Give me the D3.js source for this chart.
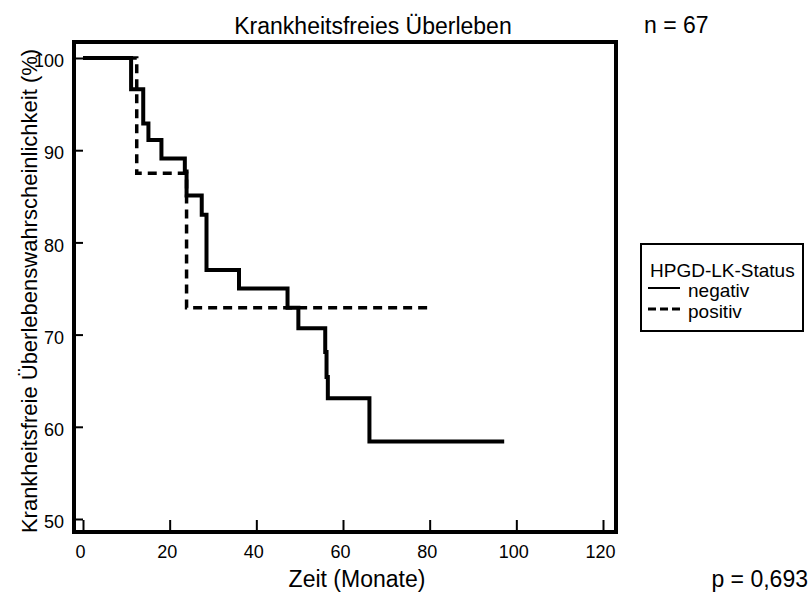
<!DOCTYPE html>
<html>
<head>
<meta charset="utf-8">
<script src="https://cdn.jsdelivr.net/npm/d3@7"></script>
<style>
  body { margin: 0; background: #fff; }
  svg { font-family: "Liberation Sans", Arial, sans-serif; }
</style>
</head>
<body>
<div id="chart"></div>
<script>
// Kaplan-Meier step curves
const negTimes = [0, 11.1, 13.9, 15.1, 18.1, 23.5, 23.9, 27.4, 28.5, 36.0, 47.2, 49.7, 55.9, 56.2, 56.5, 66.1, 97.2];
const negValues = [100, 96.6, 92.9, 91.1, 89.1, 87.7, 85.1, 83.0, 77.0, 75.0, 72.9, 70.7, 68.1, 65.4, 63.1, 58.4, 58.4];
const posTimes = [0, 12.4, 23.9, 80.4];
const posValues = [100, 87.5, 72.9, 72.9];

const xTicks = [0, 20, 40, 60, 80, 100, 120];
const yTicks = [50, 60, 70, 80, 90, 100];
const legendLabels = ['negativ', 'positiv'];

const width = 810, height = 595;

const svg = d3.select('#chart')
  .append('svg')
  .attr('width', width)
  .attr('height', height);

const x = d3.scaleLinear().domain([0, 120]).range([83, 603]);
const y = d3.scaleLinear().domain([50, 100]).range([519, 58]);

const frame = { left: 74, top: 42, right: 616, bottom: 532 };

// x axis ticks (inward)
const xAxis = svg.append('g')
  .attr('transform', `translate(0,${frame.bottom})`)
  .call(d3.axisBottom(x).tickValues(xTicks).tickSize(-12).tickPadding(13).tickFormat(d3.format('d')));
xAxis.select('.domain').remove();
xAxis.selectAll('line').attr('stroke', '#000').attr('stroke-width', 2);
xAxis.selectAll('text')
  .attr('font-size', 18)
  .attr('dx', -3)
  .attr('fill', '#000')
  .attr('font-family', 'Liberation Sans, Arial, sans-serif');

// y axis ticks (inward)
const yAxis = svg.append('g')
  .attr('transform', `translate(${frame.left},0)`)
  .call(d3.axisLeft(y).tickValues(yTicks).tickSize(-9).tickPadding(10).tickFormat(d3.format('d')));
yAxis.select('.domain').remove();
yAxis.selectAll('line').attr('stroke', '#000').attr('stroke-width', 2);
yAxis.selectAll('text')
  .attr('font-size', 18)
  .attr('dy', '0.48em')
  .attr('fill', '#000')
  .attr('font-family', 'Liberation Sans, Arial, sans-serif');

// plot frame
svg.append('rect')
  .attr('x', frame.left)
  .attr('y', frame.top)
  .attr('width', frame.right - frame.left)
  .attr('height', frame.bottom - frame.top)
  .attr('fill', 'none')
  .attr('stroke', '#000')
  .attr('stroke-width', 4);

const line = d3.line()
  .x((d) => x(d[0]))
  .y((d) => y(d[1]))
  .curve(d3.curveStepAfter);

const negData = negTimes.map((t, i) => [t, negValues[i]]);
const posData = posTimes.map((t, i) => [t, posValues[i]]);

svg.append('path')
  .datum(posData)
  .attr('d', line)
  .attr('fill', 'none')
  .attr('stroke', '#000')
  .attr('stroke-width', 3.5)
  .attr('stroke-dasharray', '9,6');

svg.append('path')
  .datum(negData)
  .attr('d', line)
  .attr('fill', 'none')
  .attr('stroke', '#000')
  .attr('stroke-width', 4);

// texts
svg.append('text')
  .attr('x', 373).attr('y', 34)
  .attr('text-anchor', 'middle')
  .attr('font-size', 23)
  .text('Krankheitsfreies Überleben');

svg.append('text')
  .attr('x', 644).attr('y', 33)
  .attr('font-size', 23)
  .text('n = 67');

svg.append('text')
  .attr('x', 357).attr('y', 587)
  .attr('text-anchor', 'middle')
  .attr('font-size', 23)
  .text('Zeit (Monate)');

svg.append('text')
  .attr('x', 808).attr('y', 587)
  .attr('text-anchor', 'end')
  .attr('font-size', 23)
  .text('p = 0,693');

svg.append('text')
  .attr('transform', `translate(37,291) rotate(-90)`)
  .attr('text-anchor', 'middle')
  .attr('font-size', 22)
  .text('Krankheitsfreie Überlebenswahrscheinlichkeit (%)');

// legend
const legend = svg.append('g');
legend.append('rect')
  .attr('x', 641).attr('y', 244)
  .attr('width', 162).attr('height', 87)
  .attr('fill', 'none')
  .attr('stroke', '#000')
  .attr('stroke-width', 2);
legend.append('text')
  .attr('x', 650).attr('y', 277)
  .attr('font-size', 19)
  .text('HPGD-LK-Status');
legendLabels.forEach((lab, i) => {
  const by = 297 + i * 21;
  legend.append('line')
    .attr('x1', 648).attr('x2', 680)
    .attr('y1', by - 9).attr('y2', by - 9)
    .attr('stroke', '#000')
    .attr('stroke-width', i === 0 ? 2 : 3)
    .attr('stroke-dasharray', i === 0 ? null : '8,4');
  legend.append('text')
    .attr('x', 688).attr('y', by)
    .attr('font-size', 19)
    .text(lab);
});
</script>
</body>
</html>
